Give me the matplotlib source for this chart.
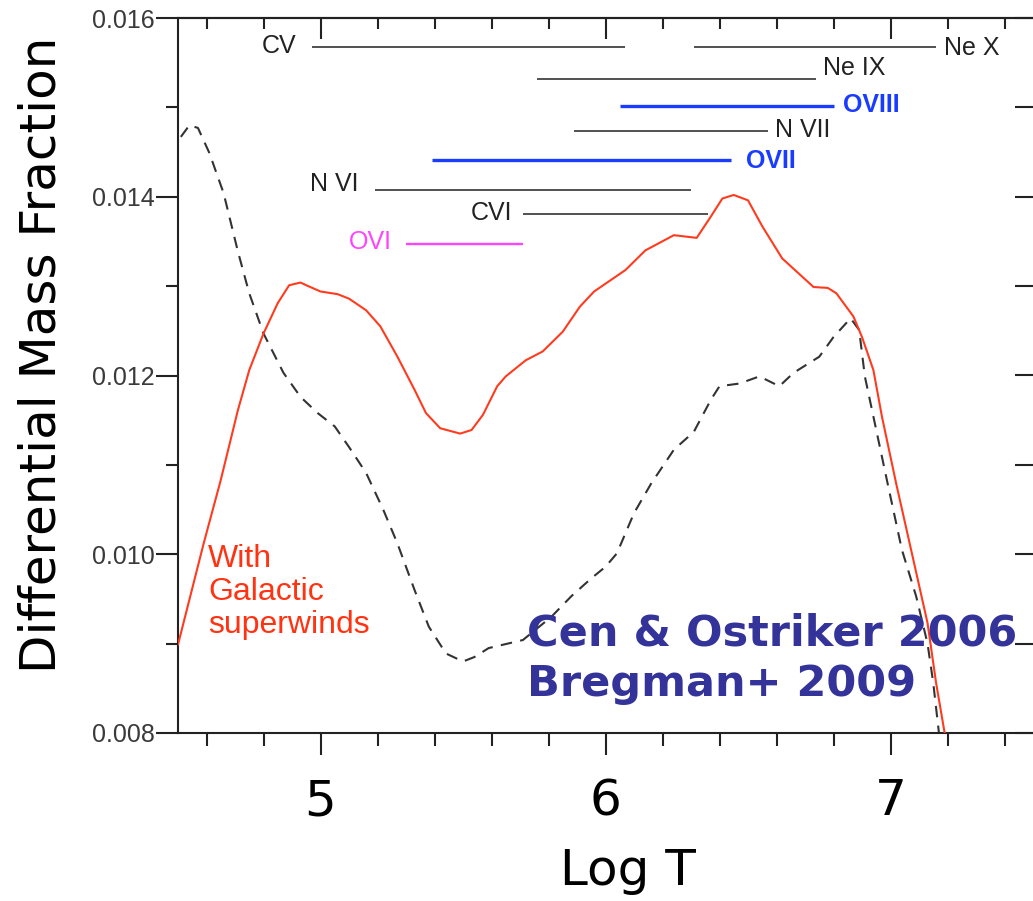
import numpy as np
import matplotlib.pyplot as plt
from matplotlib.ticker import MultipleLocator

# differential mass fraction vs log T, run with galactic superwinds (red)
logT_wind = [4.50, 4.59, 4.65, 4.71, 4.75, 4.80, 4.85, 4.89, 4.93, 4.95,
             5.00, 5.06, 5.10, 5.16, 5.21, 5.27, 5.33, 5.37, 5.42, 5.49,
             5.53, 5.57, 5.62, 5.65, 5.72, 5.78, 5.85, 5.91, 5.96, 6.07,
             6.14, 6.24, 6.32, 6.37, 6.41, 6.45, 6.50, 6.55, 6.62, 6.73,
             6.78, 6.81, 6.87, 6.90, 6.94, 6.97, 7.02, 7.08, 7.13, 7.16,
             7.19, 7.22]
frac_wind = [0.00899, 0.01012, 0.01083, 0.01161, 0.01206, 0.01247, 0.01281, 0.01301, 0.01304, 0.01301,
             0.01294, 0.01291, 0.01286, 0.01273, 0.01255, 0.01221, 0.01184, 0.01158, 0.01141, 0.01135,
             0.01139, 0.01156, 0.01188, 0.01199, 0.01217, 0.01227, 0.01249, 0.01277, 0.01294, 0.01318,
             0.01340, 0.01357, 0.01354, 0.01378, 0.01398, 0.01402, 0.01396, 0.01367, 0.01331, 0.01299,
             0.01298, 0.01292, 0.01266, 0.01243, 0.01206, 0.01154, 0.01079, 0.00994, 0.00923, 0.00856,
             0.00800, 0.00770]

# same quantity, run without superwinds (black dashed)
logT_nowind = [4.51, 4.54, 4.57, 4.61, 4.66, 4.71, 4.75, 4.80, 4.87, 4.93,
               4.99, 5.05, 5.10, 5.16, 5.22, 5.27, 5.33, 5.38, 5.44, 5.50,
               5.54, 5.59, 5.71, 5.81, 5.88, 5.95, 6.00, 6.04, 6.10, 6.16,
               6.24, 6.31, 6.37, 6.40, 6.47, 6.54, 6.61, 6.66, 6.75, 6.80,
               6.86, 6.89, 6.91, 6.94, 6.99, 7.04, 7.09, 7.13, 7.15, 7.17,
               7.20]
frac_nowind = [0.01467, 0.01480, 0.01477, 0.01449, 0.01404, 0.01339, 0.01292, 0.01247, 0.01203, 0.01176,
               0.01158, 0.01143, 0.01120, 0.01091, 0.01050, 0.01012, 0.00960, 0.00919, 0.00889, 0.00880,
               0.00885, 0.00895, 0.00904, 0.00930, 0.00953, 0.00973, 0.00986, 0.01001, 0.01046, 0.01079,
               0.01117, 0.01137, 0.01173, 0.01188, 0.01191, 0.01199, 0.01188, 0.01203, 0.01221, 0.01243,
               0.01264, 0.01251, 0.01199, 0.01154, 0.01079, 0.01005, 0.00953, 0.00900, 0.00856, 0.00800,
               0.00760]

# temperature ranges where each ion is abundant
ion_names = ["CV", "Ne X", "Ne IX", "OVIII", "N VII", "OVII", "N VI", "CVI", "OVI"]
ion_lo = [4.97, 6.31, 5.76, 6.05, 5.89, 5.39, 5.19, 5.71, 5.30]
ion_hi = [6.07, 7.16, 6.74, 6.80, 6.57, 6.44, 6.30, 6.36, 5.71]
ion_y = [0.01568, 0.01567, 0.01532, 0.01502, 0.01474, 0.01441, 0.01408, 0.01381, 0.01347]

# styling of the ion bars and their labels
ion_color = ["#222222", "#222222", "#222222", "#1a3cff", "#222222",
             "#1a3cff", "#222222", "#222222", "#ff44ff"]
ion_lw = [1.1, 1.1, 1.1, 2.4, 1.1, 2.4, 1.1, 1.1, 1.7]
ion_bold = [False, False, False, True, False, True, False, False, False]
ion_side = ["left", "right", "right", "right", "right", "right", "left", "left", "left"]
ion_gap = [16, 8, 7, 10, 7, 15, 16, 11, 14]
ion_dy = [1, -1, 11, 1, 1, -1, 6, 1, 2]

fig = plt.figure(figsize=(10.33, 9.01), dpi=100)
ax = fig.add_axes([178 / 1033, (901 - 733) / 901, (1033 - 178) / 1033, (733 - 18) / 901])

# the two simulation curves
ax.plot(logT_wind, frac_wind, color="#ff3b1f", lw=1.5, zorder=3)
ax.plot(logT_nowind, frac_nowind, color="#333333", lw=1.5, dashes=(5.5, 4), zorder=2)

# ion bars with labels
for i in range(len(ion_names)):
    ax.plot([ion_lo[i], ion_hi[i]], [ion_y[i], ion_y[i]],
            color=ion_color[i], lw=ion_lw[i], solid_capstyle="butt")
    if ion_side[i] == "left":
        xy = (ion_lo[i], ion_y[i])
        off = (-ion_gap[i], ion_dy[i])
        ha = "right"
    else:
        xy = (ion_hi[i], ion_y[i])
        off = (ion_gap[i], ion_dy[i])
        ha = "left"
    ax.annotate(ion_names[i], xy=xy, xytext=off, textcoords="offset pixels",
                ha=ha, va="center", fontsize=18, family="Liberation Sans",
                color=ion_color[i], fontweight="bold" if ion_bold[i] else "normal")

ax.text(4.605, 0.01012, "With\nGalactic\nsuperwinds", color="#ff3311",
        fontsize=23, family="Liberation Sans", ha="left", va="top", linespacing=1.15)

fig.text(527 / 1033, 1 - 612 / 901, "Cen & Ostriker 2006\nBregman+ 2009",
         color="#333399", fontsize=31, fontweight="bold", family="DejaVu Sans",
         ha="left", va="top", linespacing=1.28)

# axis limits and ticks
ax.set_xlim(4.5, 7.5)
ax.set_ylim(0.008, 0.016)
ax.set_xticks([5, 6, 7])
ax.xaxis.set_minor_locator(MultipleLocator(0.2))
ax.set_yticks([0.008, 0.010, 0.012, 0.014, 0.016])
ax.set_yticklabels(["0.008", "0.010", "0.012", "0.014", "0.016"])
ax.yaxis.set_minor_locator(MultipleLocator(0.001))

ax.tick_params(axis="both", which="major", direction="out", length=16, width=1.5,
               color="#222222", top=False, right=False)
ax.tick_params(axis="both", which="minor", direction="out", length=9, width=1.5,
               color="#222222", top=False, right=False)
ax.tick_params(axis="x", which="major", labelsize=36, pad=16)
ax.tick_params(axis="y", which="major", labelsize=18, pad=1, labelcolor="#3a3a3a")
for lab in ax.get_yticklabels():
    lab.set_family("Liberation Sans")

for side in ["left", "bottom", "top"]:
    ax.spines[side].set_linewidth(1.5)
    ax.spines[side].set_color("#222222")
ax.spines["right"].set_visible(False)

# inward ticks on top and right
top = ax.secondary_xaxis("top")
top.set_xticks([5, 6, 7])
top.xaxis.set_minor_locator(MultipleLocator(0.2))
top.tick_params(which="major", direction="in", length=15, width=1.5, labeltop=False, color="#222222")
top.tick_params(which="minor", direction="in", length=8, width=1.5, color="#222222")
top.spines["top"].set_linewidth(1.5)
top.spines["top"].set_color("#222222")

right = ax.secondary_yaxis("right")
right.set_yticks([0.008, 0.010, 0.012, 0.014, 0.016])
right.yaxis.set_minor_locator(MultipleLocator(0.001))
right.tick_params(which="both", direction="in", length=13, width=1.5, labelright=False, color="#222222")
right.spines["right"].set_visible(False)

# axis titles
fig.text(42 / 1033, 1 - 355 / 901, "Differential Mass Fraction", rotation=90,
         fontsize=36, ha="center", va="center", family="DejaVu Sans")
fig.text(628 / 1033, 1 - 871 / 901, "Log T", fontsize=36, ha="center", va="center",
         family="DejaVu Sans")

fig.savefig("out.png", dpi=100)
